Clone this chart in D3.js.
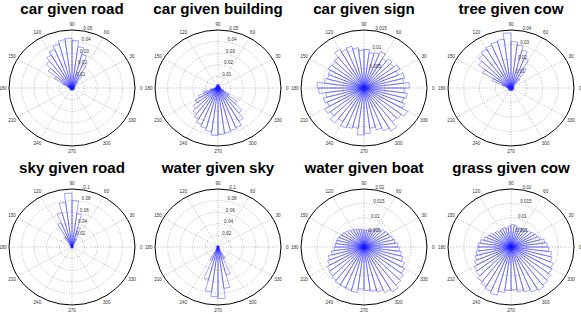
<!DOCTYPE html>
<html>
<head>
<meta charset="utf-8">
<script src="https://cdn.jsdelivr.net/npm/d3@7"></script>
<style>
  html, body { margin: 0; padding: 0; background: #fff; }
  svg { display: block; }
  text { font-family: "Liberation Sans", Arial, sans-serif; }
</style>
</head>
<body>
<div id="vis"></div>
<script>
// 48 bins of 7.5 degrees each, bin k spans [7.5k, 7.5k + 7.5)
const titles = ["car given road", "car given building", "car given sign", "tree given cow",
        "sky given road", "water given sky", "water given boat", "grass given cow"];

const carRoad = [0.002, 0.002, 0.002, 0.002, 0.003, 0.004, 0.007, 0.013, 0.022, 0.030, 0.036, 0.041,
        0.043, 0.042, 0.039, 0.036, 0.033, 0.029, 0.024, 0.016, 0.008, 0.004, 0.003, 0.002,
        0.002, 0.001, 0.002, 0.001, 0.002, 0.001, 0.002, 0.001, 0.002, 0.001, 0.002, 0.002,
        0.002, 0.001, 0.002, 0.001, 0.002, 0.001, 0.002, 0.001, 0.002, 0.002, 0.002, 0.002];
const carBuilding = [0.002, 0.001, 0.002, 0.001, 0.002, 0.001, 0.002, 0.002, 0.002, 0.003, 0.003, 0.003,
        0.003, 0.003, 0.003, 0.002, 0.002, 0.002, 0.002, 0.001, 0.002, 0.001, 0.002, 0.002,
        0.003, 0.006, 0.012, 0.017, 0.021, 0.025, 0.028, 0.031, 0.034, 0.036, 0.038, 0.041,
        0.040, 0.039, 0.038, 0.037, 0.033, 0.027, 0.019, 0.010, 0.005, 0.003, 0.002, 0.002];
const carSign = [0.0108, 0.0095, 0.0100, 0.0088, 0.0098, 0.0090, 0.0095, 0.0088, 0.0102, 0.0095, 0.0092, 0.0100,
        0.0098, 0.0105, 0.0112, 0.0108, 0.0115, 0.0100, 0.0095, 0.0098, 0.0092, 0.0090, 0.0095, 0.0112,
        0.0108, 0.0092, 0.0100, 0.0095, 0.0108, 0.0102, 0.0114, 0.0100, 0.0112, 0.0108, 0.0105, 0.0122,
        0.0118, 0.0105, 0.0112, 0.0120, 0.0128, 0.0110, 0.0112, 0.0120, 0.0105, 0.0098, 0.0104, 0.0096];
const treeCow = [0.002, 0.001, 0.002, 0.001, 0.002, 0.003, 0.008, 0.016, 0.022, 0.027, 0.030, 0.032,
        0.038, 0.034, 0.033, 0.032, 0.031, 0.029, 0.026, 0.021, 0.013, 0.006, 0.003, 0.002,
        0.002, 0.001, 0.002, 0.001, 0.002, 0.001, 0.002, 0.001, 0.002, 0.001, 0.002, 0.001,
        0.002, 0.001, 0.002, 0.001, 0.002, 0.001, 0.002, 0.001, 0.002, 0.001, 0.002, 0.001];
const skyRoad = [0.002, 0.001, 0.002, 0.001, 0.002, 0.001, 0.002, 0.004, 0.015, 0.035, 0.058, 0.080,
        0.093, 0.078, 0.062, 0.045, 0.020, 0.005, 0.002, 0.001, 0.002, 0.001, 0.002, 0.001,
        0.002, 0.001, 0.002, 0.001, 0.002, 0.001, 0.002, 0.001, 0.002, 0.001, 0.002, 0.001,
        0.002, 0.001, 0.002, 0.001, 0.002, 0.001, 0.002, 0.001, 0.002, 0.001, 0.002, 0.001];
const waterSky = [0.002, 0.001, 0.002, 0.001, 0.002, 0.001, 0.002, 0.001, 0.002, 0.001, 0.002, 0.001,
        0.002, 0.001, 0.002, 0.001, 0.002, 0.001, 0.002, 0.001, 0.002, 0.001, 0.002, 0.001,
        0.002, 0.001, 0.002, 0.001, 0.002, 0.002, 0.003, 0.006, 0.025, 0.058, 0.078, 0.086,
        0.089, 0.072, 0.050, 0.022, 0.005, 0.002, 0.002, 0.001, 0.002, 0.001, 0.002, 0.001];
const waterBoat = [0.0108, 0.0100, 0.0095, 0.0090, 0.0088, 0.0085, 0.0078, 0.0072, 0.0066, 0.0062, 0.0060, 0.0058,
        0.0060, 0.0062, 0.0065, 0.0068, 0.0070, 0.0074, 0.0078, 0.0082, 0.0085, 0.0088, 0.0090, 0.0092,
        0.0095, 0.0105, 0.0118, 0.0125, 0.0135, 0.0140, 0.0145, 0.0150, 0.0152, 0.0155, 0.0158, 0.0145,
        0.0150, 0.0155, 0.0160, 0.0170, 0.0178, 0.0165, 0.0158, 0.0148, 0.0140, 0.0128, 0.0120, 0.0112];
const grassCow = [0.0115, 0.0108, 0.0095, 0.0090, 0.0085, 0.0080, 0.0075, 0.0070, 0.0072, 0.0068, 0.0075, 0.0078,
        0.0072, 0.0065, 0.0070, 0.0068, 0.0065, 0.0070, 0.0072, 0.0078, 0.0082, 0.0090, 0.0098, 0.0105,
        0.0105, 0.0112, 0.0118, 0.0125, 0.0135, 0.0140, 0.0150, 0.0158, 0.0165, 0.0172, 0.0158, 0.0150,
        0.0148, 0.0155, 0.0160, 0.0168, 0.0172, 0.0165, 0.0160, 0.0150, 0.0145, 0.0135, 0.0130, 0.0120];

const series = [carRoad, carBuilding, carSign, treeCow, skyRoad, waterSky, waterBoat, grassCow];
const rMax = [0.05, 0.05, 0.015, 0.04, 0.1, 0.1, 0.02, 0.02];
const rTicks = [
  ["0.01", "0.02", "0.03", "0.04", "0.05"],
  ["0.01", "0.02", "0.03", "0.04", "0.05"],
  ["0.005", "0.01", "0.015"],
  ["0.01", "0.02", "0.03", "0.04"],
  ["0.02", "0.04", "0.06", "0.08", "0.1"],
  ["0.02", "0.04", "0.06", "0.08", "0.1"],
  ["0.005", "0.01", "0.015", "0.02"],
  ["0.005", "0.01", "0.015", "0.02"]
];
const angleTicks = [0, 30, 60, 90, 120, 150, 180, 210, 240, 270, 300, 330];

const width = 581;
const height = 314;
const colX = [72, 218, 364, 511];
const rowY = [88, 247];
const radX = 63;
const radY = 58;
const nBins = 48;

const svg = d3.select("#vis")
        .append("svg")
        .attr("width", width)
        .attr("height", height);

function drawPanel(i) {
  const cx = colX[i % 4];
  const cy = rowY[Math.floor(i / 4)];
  const rmax = rMax[i];
  const sx = d3.scaleLinear().domain([0, rmax]).range([0, radX]);
  const sy = d3.scaleLinear().domain([0, rmax]).range([0, radY]);
  const ang = d3.scaleLinear().domain([0, 360]).range([0, 2 * Math.PI]);
  const px = (t, r) => sx(r) * Math.cos(ang(t));
  const py = (t, r) => -sy(r) * Math.sin(ang(t));

  const g = svg.append("g")
          .attr("transform", "translate(" + cx + "," + cy + ")");

  // spokes
  g.selectAll("line.spoke")
          .data([0, 30, 60, 90, 120, 150])
          .join("line")
          .attr("class", "spoke")
          .attr("x1", d => px(d, rmax))
          .attr("y1", d => py(d, rmax))
          .attr("x2", d => px(d + 180, rmax))
          .attr("y2", d => py(d + 180, rmax))
          .attr("stroke", "#8a8a8a")
          .attr("stroke-width", 0.6)
          .attr("stroke-dasharray", "1,1.6");

  // inner rings
  const ticks = rTicks[i].map(Number);
  g.selectAll("ellipse.ring")
          .data(ticks.filter(t => t < rmax - 1e-9))
          .join("ellipse")
          .attr("class", "ring")
          .attr("rx", d => sx(d))
          .attr("ry", d => sy(d))
          .attr("fill", "none")
          .attr("stroke", "#8a8a8a")
          .attr("stroke-width", 0.6)
          .attr("stroke-dasharray", "1,1.6");

  // rose bins
  const step = 360 / nBins;
  const line = d3.line();
  g.selectAll("path.bin")
          .data(series[i])
          .join("path")
          .attr("class", "bin")
          .attr("d", (v, k) => line([[0, 0],
            [px(k * step, v), py(k * step, v)],
            [px((k + 1) * step, v), py((k + 1) * step, v)],
            [0, 0]]))
          .attr("fill", "none")
          .attr("stroke", "#1a1aff")
          .attr("stroke-width", 0.4);

  // outer circle
  g.append("ellipse")
          .attr("rx", sx(rmax))
          .attr("ry", sy(rmax))
          .attr("fill", "none")
          .attr("stroke", "#000")
          .attr("stroke-width", 1);

  // radial tick labels at 82 degrees
  const rinc = ticks[0];
  g.selectAll("text.rlab")
          .data(rTicks[i])
          .join("text")
          .attr("class", "rlab")
          .attr("x", d => px(82, +d + rinc / 20) + 2.5)
          .attr("y", d => py(82, +d + rinc / 20))
          .attr("font-size", 4.6)
          .attr("fill", "#333")
          .text(d => d);

  // angle labels
  g.selectAll("text.alab")
          .data(angleTicks)
          .join("text")
          .attr("class", "alab")
          .attr("x", d => px(d, rmax * 1.1))
          .attr("y", d => py(d, rmax * 1.1) + 1.6)
          .attr("text-anchor", "middle")
          .attr("font-size", 4.6)
          .attr("fill", "#333")
          .text(d => d);

  // title
  svg.append("text")
          .attr("transform", "translate(" + cx + "," + (cy - 74.5) + ") scale(1.08,1)")
          .attr("text-anchor", "middle")
          .attr("font-size", 14)
          .attr("font-weight", "bold")
          .attr("fill", "#000")
          .text(titles[i]);
}

for(let i = 0; i < series.length; i++) {
  drawPanel(i);
}
</script>
</body>
</html>
